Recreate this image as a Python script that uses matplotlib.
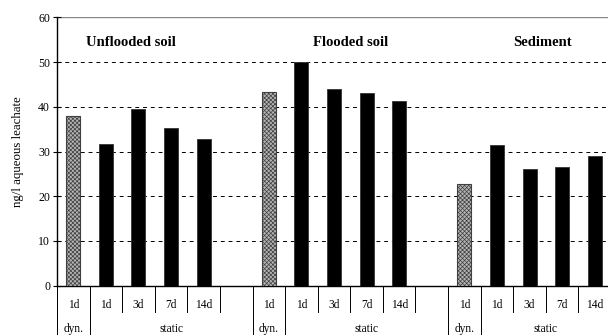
import matplotlib
matplotlib.use("Agg")
import matplotlib.pyplot as plt
import numpy as np

plt.rcParams["font.family"] = ["Liberation Serif", "DejaVu Serif"]
plt.rcParams["hatch.linewidth"] = 0.5

# data
groups = ["Unflooded soil", "Flooded soil", "Sediment"]
day_labels = ["1d", "1d", "3d", "7d", "14d"]
modes = ["dyn.", "static", "static", "static", "static"]
unflooded = [37.9, 31.7, 39.4, 35.3, 32.9]
flooded = [43.3, 50.0, 43.9, 43.1, 41.2]
sediment = [22.7, 31.4, 26.0, 26.5, 29.1]
series = [unflooded, flooded, sediment]

fig = plt.figure(figsize=(6.08, 3.35), dpi=100)
ax = fig.add_axes([57 / 608, 49.3 / 335, 554 / 608, 268.4 / 335])

slot = 6  # 5 bars + one empty slot per group
for g, vals in enumerate(series):
    x0 = g * slot
    for i, v in enumerate(vals):
        if modes[i] == "dyn.":
            ax.bar(x0 + i, v, width=0.43, facecolor="#b4b4b4", edgecolor="#404040",
                   hatch="xxxxxxxx", linewidth=0.8, zorder=3)
        else:
            ax.bar(x0 + i, v, width=0.43, color="black", edgecolor="#333333",
                   linewidth=0.6, zorder=3)

n_slots = slot * len(series) - 1
ax.set_xlim(-0.5, n_slots - 0.5)
ax.set_ylim(0, 60)
ax.set_yticks(np.arange(0, 61, 10))
ax.set_xticks([])
ax.tick_params(axis="y", labelsize=8.5, length=6, width=0.8, direction="inout", pad=2)
for yv in range(10, 60, 10):
    ax.axhline(yv, color="black", linestyle=(0, (4, 4)), linewidth=0.7, zorder=1)
ax.axhline(60, color="#888888", linewidth=1.0, zorder=1)

for s in ["top", "right"]:
    ax.spines[s].set_visible(False)
ax.spines["left"].set_linewidth(1.0)
ax.spines["bottom"].set_linewidth(1.0)

ax.set_ylabel("ng/l aqueous leachate", fontsize=9.3, labelpad=10)

# group titles
title_pos = [1.77, 8.5, 14.4]
for name, xp in zip(groups, title_pos):
    ax.text(xp, 54.3, name, ha="center", va="center", fontsize=10.5, fontweight="bold")

# category table below the axis
tr = ax.get_xaxis_transform()
line_kw = dict(color="black", linewidth=0.7, transform=tr, clip_on=False)
ax.plot([-0.5, -0.5], [0, -0.2], **line_kw)
for g in range(len(series)):
    x0 = g * slot
    for i, lab in enumerate(day_labels):
        ax.text(x0 + i, -0.073, lab, transform=tr, ha="center", va="center", fontsize=8.3)
    # long separators around the dyn. column
    for xb in [x0 - 0.5, x0 + 0.5]:
        ax.plot([xb, xb], [0, -0.2], **line_kw)
    # short separators between static columns
    for xb in [x0 + 1.5, x0 + 2.5, x0 + 3.5, x0 + 4.5]:
        if xb < n_slots - 0.5:
            ax.plot([xb, xb], [0, -0.097], **line_kw)
    ax.text(x0, -0.162, "dyn.", transform=tr, ha="center", va="center", fontsize=8.3)
    end = min(x0 + 5.5, n_slots - 0.5)
    ax.text((x0 + 0.5 + end) / 2, -0.162, "static", transform=tr,
            ha="center", va="center", fontsize=8.3)

fig.savefig("out.png", dpi=100)
